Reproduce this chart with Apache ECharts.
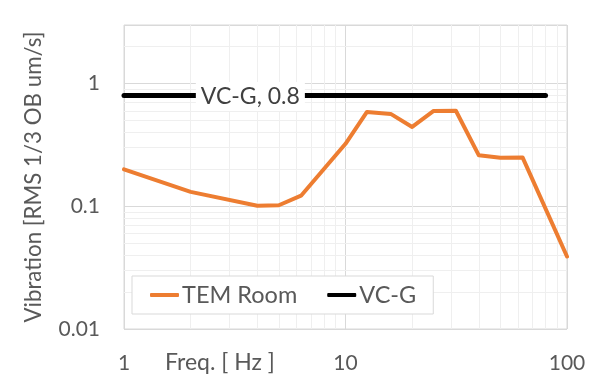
<!DOCTYPE html>
<html>
<head>
<meta charset="utf-8">
<script src="https://cdn.jsdelivr.net/npm/echarts@6/dist/echarts.min.js"></script>
<style>
html,body{margin:0;padding:0;background:#fff;}
#chart{width:600px;height:391px;}
</style>
</head>
<body>
<div id="chart"></div>
<script>
// ---- data ----
const temFreq = [1, 2, 4, 5, 6.3, 10, 12.5, 16, 20, 25, 31.5, 40, 50, 63, 100];
const temVals = [0.2, 0.131, 0.101, 0.102, 0.122, 0.323, 0.587, 0.566, 0.443, 0.598, 0.6, 0.26, 0.249, 0.25, 0.039];
const vcgFreq = [1, 4, 80];
const vcgVals = [0.8, 0.8, 0.8];
const vcgLabel = 'VC-G, 0.8';
const xTickLabels = ['1', '10', '100'];
const yTickLabels = ['0.01', '0.1', '1'];
const xMinor = [2, 3, 4, 5, 6, 7, 8, 9, 20, 30, 40, 50, 60, 70, 80, 90];
const yMinor = [0.02, 0.03, 0.04, 0.05, 0.06, 0.07, 0.08, 0.09, 0.2, 0.3, 0.4, 0.5, 0.6, 0.7, 0.8, 0.9, 2];
const seriesNames = ['TEM Room', 'VC-G'];
const xTitle = 'Freq. [ Hz ]';
const yTitle = 'Vibration [RMS 1/3 OB um/s]';

const FONT = 'Lato';
const TXT = '#595959';

function isDecade(v) {
  const l = Math.log10(v);
  return Math.abs(l - Math.round(l)) < 1e-6;
}
function fmtTick(list) {
  return function (v) {
    if (!isDecade(v)) return '';
    const idx = list.findIndex(s => Math.abs(parseFloat(s) - v) < 1e-9 * Math.max(1, v));
    return idx >= 0 ? list[idx] : '';
  };
}

const chart = echarts.init(document.getElementById('chart'), null, {renderer: 'canvas'});
chart.setOption({
  animation: false,
  backgroundColor: '#fff',
  textStyle: {fontFamily: FONT},
  grid: {left: 124, right: 33, top: 25, bottom: 62, show: true, borderColor: '#D9D9D9', borderWidth: 1, containLabel: false},
  xAxis: {
    type: 'log', logBase: 10, min: 1, max: 100,
    axisLine: {show: false}, axisTick: {show: false},
    axisLabel: {formatter: fmtTick(xTickLabels), color: TXT, fontSize: 21, fontFamily: FONT, margin: 24},
    splitLine: {show: true, lineStyle: {color: '#D9D9D9', width: 1}},
    minorTick: {show: false}
  },
  yAxis: {
    type: 'log', logBase: 10, min: 0.01, max: 3, interval: 1,
    axisLine: {show: false}, axisTick: {show: false},
    axisLabel: {formatter: fmtTick(yTickLabels), color: TXT, fontSize: 21, fontFamily: FONT, margin: 24, showMaxLabel: false},
    splitLine: {show: true, lineStyle: {color: '#D9D9D9', width: 1}},
    name: yTitle, nameLocation: 'middle', nameRotate: 90, nameGap: 79,
    nameTextStyle: {color: TXT, fontSize: 22.3, fontFamily: FONT}
  },
  legend: {
    data: [{name: seriesNames[0], icon: 'roundRect'}, {name: seriesNames[1], icon: 'roundRect'}],
    left: 132, top: 276,
    padding: [7, 17, 7, 18],
    itemGap: 30, itemWidth: 29, itemHeight: 4,
    borderColor: '#D9D9D9', borderWidth: 1, backgroundColor: '#fff',
    textStyle: {color: TXT, fontSize: 23.5, fontFamily: FONT, padding: [0, 0, 0, -2]}
  },
  graphic: [{
    type: 'text', left: 165, top: 351,
    style: {text: xTitle, fill: TXT, font: '23px ' + FONT}
  }],
  series: [
    {
      name: '_grid', type: 'line', data: [], silent: true, z: 1,
      markLine: {
        silent: true, symbol: 'none', animation: false, z: 1,
        label: {show: false},
        lineStyle: {color: '#EFEFEF', width: 1, type: 'solid'},
        data: xMinor.map(v => ({xAxis: v})).concat(yMinor.map(v => ({yAxis: v})))
      }
    },
    {
      name: seriesNames[0], type: 'line', symbol: 'none', showSymbol: false, z: 3,
      data: temFreq.map((f, i) => [f, temVals[i]]),
      itemStyle: {color: '#ED7D31'},
      lineStyle: {color: '#ED7D31', width: 4, cap: 'round', join: 'round'}
    },
    {
      name: seriesNames[1], type: 'line', symbol: 'none', showSymbol: false, z: 4,
      data: vcgFreq.map((f, i) => [f, vcgVals[i]]),
      itemStyle: {color: '#000'},
      lineStyle: {color: '#000', width: 5, cap: 'round', join: 'round'},
      markPoint: {
        z: 6, silent: true, animation: false,
        symbol: 'rect', symbolSize: 1, itemStyle: {color: 'rgba(0,0,0,0)'},
        data: [{coord: [vcgFreq[1], vcgVals[1]], value: vcgLabel}],
        label: {
          show: true, position: 'inside', formatter: vcgLabel, offset: [-7, 1],
          color: '#404040', fontSize: 23, fontFamily: FONT,
          backgroundColor: '#fff', padding: [3, 5]
        }
      }
    }
  ]
});
</script>
</body>
</html>
